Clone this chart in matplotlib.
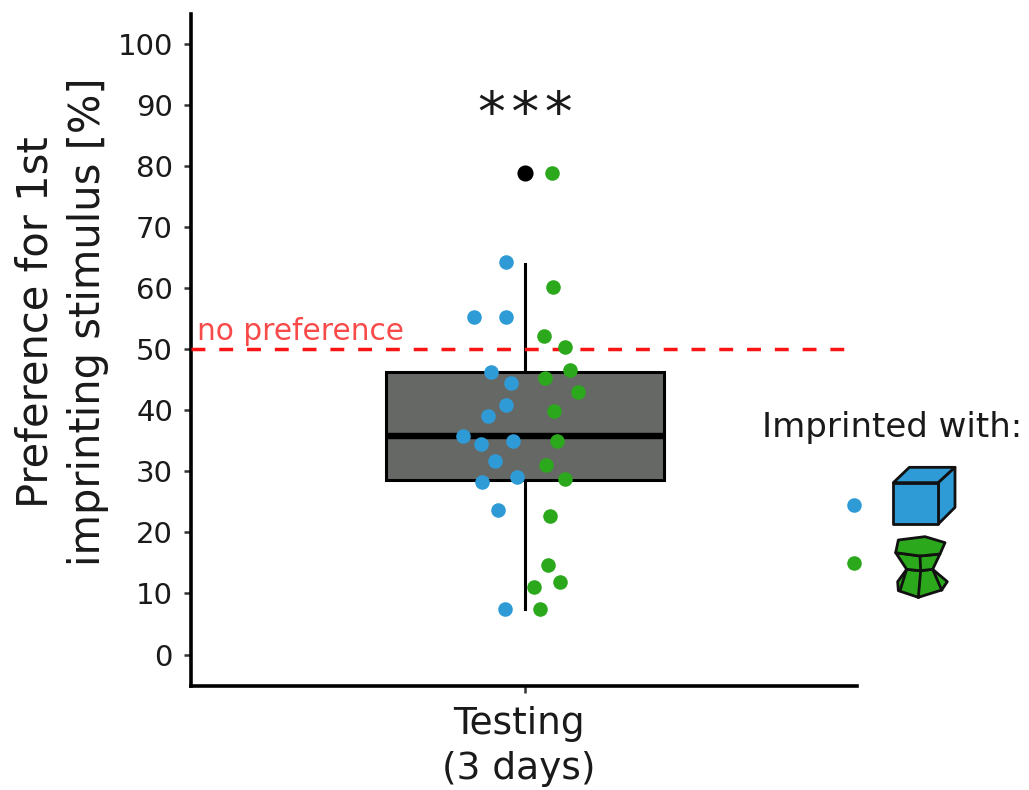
#!/usr/bin/env python3
"""Preference for the first imprinting stimulus after 3 days of testing."""

import matplotlib

matplotlib.use("Agg")
import matplotlib.pyplot as plt
from matplotlib.patches import Polygon
from matplotlib.transforms import ScaledTranslation

BLUE = "#2f9bd6"
GREEN = "#2ca81c"
BOX = "#656865"
TEXT = "#1a1a1a"

blue_x = [-0.034, -0.092, -0.034, -0.061, -0.025, -0.034, -0.067, -0.112,
          -0.079, -0.022, -0.054, -0.014, -0.077, -0.049, -0.036]
blue_y = [64.2, 55.3, 55.3, 46.3, 44.5, 40.8, 39.1, 35.8,
          34.4, 35.0, 31.6, 29.1, 28.3, 23.6, 7.5]
green_x = [0.049, 0.050, 0.034, 0.072, 0.036, 0.081, 0.095, 0.052,
           0.058, 0.038, 0.072, 0.045, 0.041, 0.063, 0.016, 0.027]
green_y = [78.9, 60.2, 52.2, 50.4, 45.3, 46.5, 43.0, 39.8,
           34.9, 31.1, 28.8, 22.6, 14.7, 11.9, 11.1, 7.4]

box_stats = {"q1": 28.5, "med": 35.8, "q3": 46.3, "whislo": 7.4, "whishi": 64.0}
outlier_y = 78.9
no_pref = 50
y_ticks = [0, 10, 20, 30, 40, 50, 60, 70, 80, 90, 100]
x_label = "Testing\n(3 days)"

# icon outlines, in pixels of the zoomed legend crop
cube_faces = [
    [(430, 248), (478, 202), (615, 202), (565, 248)],
    [(565, 248), (615, 202), (615, 322), (565, 372)],
    [(430, 248), (565, 248), (565, 372), (430, 372)],
]
solid_faces = [
    [(470, 508), (510, 512), (548, 508), (592, 545), (575, 570), (505, 592),
     (445, 572), (443, 545)],
    [(437, 458), (510, 468), (570, 462), (548, 508), (510, 512), (470, 508)],
    [(445, 420), (525, 410), (585, 428), (570, 462), (510, 468), (437, 458)],
]
solid_edges = [
    [(510, 468), (512, 512), (505, 592)],
    [(470, 508), (450, 572)],
    [(548, 508), (575, 570)],
]


def draw_icons(fig):
    overlay = fig.add_axes([0, 0, 1, 1], zorder=5)
    overlay.set_xlim(0, 1029)
    overlay.set_ylim(790, 0)
    overlay.axis("off")

    def to_px(points):
        return [(750 + x / 3, 400 + y / 3) for x, y in points]

    for face in cube_faces:
        overlay.add_patch(Polygon(to_px(face), facecolor=BLUE, edgecolor="#111111",
                                  linewidth=2.0, joinstyle="round"))
    for face in solid_faces:
        overlay.add_patch(Polygon(to_px(face), facecolor=GREEN, edgecolor="#111111",
                                  linewidth=2.0, joinstyle="round"))
    for edge in solid_edges:
        xs, ys = zip(*to_px(edge))
        overlay.plot(xs, ys, color="#111111", linewidth=2.0)


def main():
    fig = plt.figure(figsize=(10.29, 7.90), dpi=100)
    ax = fig.add_axes([191 / 1029, 104 / 790, 666 / 1029, 672 / 790])

    ax.bxp(
        [box_stats],
        positions=[1],
        widths=0.5,
        showcaps=False,
        showfliers=False,
        patch_artist=True,
        boxprops={"facecolor": BOX, "edgecolor": "black", "linewidth": 2.2},
        medianprops={"color": "black", "linewidth": 4.6, "solid_capstyle": "butt"},
        whiskerprops={"color": "black", "linewidth": 2.2},
        zorder=2,
    )
    ax.scatter([1], [outlier_y], s=135, color="black", linewidth=0, zorder=3)
    ax.axhline(no_pref, xmax=0.987, color="#fa1414", linewidth=2.5,
               dashes=(4, 4), zorder=3)
    ax.scatter([1 + x for x in blue_x], blue_y, s=110, color=BLUE, linewidth=0, zorder=4)
    ax.scatter([1 + x for x in green_x], green_y, s=110, color=GREEN, linewidth=0, zorder=4)

    # legend dots
    ax.scatter([1.592], [24.4], s=110, color=BLUE, linewidth=0, zorder=4, clip_on=False)
    ax.scatter([1.592], [15.0], s=110, color=GREEN, linewidth=0, zorder=4, clip_on=False)

    ax.set_xlim(0.398, 1.598)
    ax.set_ylim(-5.15, 104.85)
    ax.set_xticks([1])
    ax.set_xticklabels([x_label], fontsize=27, color=TEXT, linespacing=1.33)
    ax.set_yticks(y_ticks)
    ax.tick_params(axis="y", labelsize=21, length=5, width=1.8, pad=8,
                   color="#333333", labelcolor=TEXT)
    ax.tick_params(axis="x", length=5, width=1.8, pad=9.5, color="#333333")
    # the x label sits a little left of its tick in the figure
    shift = ScaledTranslation(-6.5 / 100, 0, fig.dpi_scale_trans)
    for label in ax.get_xticklabels():
        label.set_transform(label.get_transform() + shift)
    ax.set_ylabel("Preference for 1st\nimprinting stimulus [%]", fontsize=30,
                  color=TEXT, linespacing=1.32)
    ax.yaxis.set_label_coords(-0.123, 0.542)
    ax.spines[["top", "right"]].set_visible(False)
    ax.spines[["left", "bottom"]].set_linewidth(2.6)

    ax.text(0.408, 52.9, "no preference", color="#f94a4a", fontsize=21.3, va="center", ha="left")
    ax.text(1, 88.15, "*\u200a*\u200a*", fontsize=40, ha="center", va="center", color=TEXT)
    fig.text(762 / 1029, 1 - 427 / 790, "Imprinted with:", fontsize=24.5,
             va="center", ha="left", color=TEXT)

    draw_icons(fig)
    fig.savefig("out.png", dpi=100, facecolor="white")
    plt.close(fig)


if __name__ == "__main__":
    main()
